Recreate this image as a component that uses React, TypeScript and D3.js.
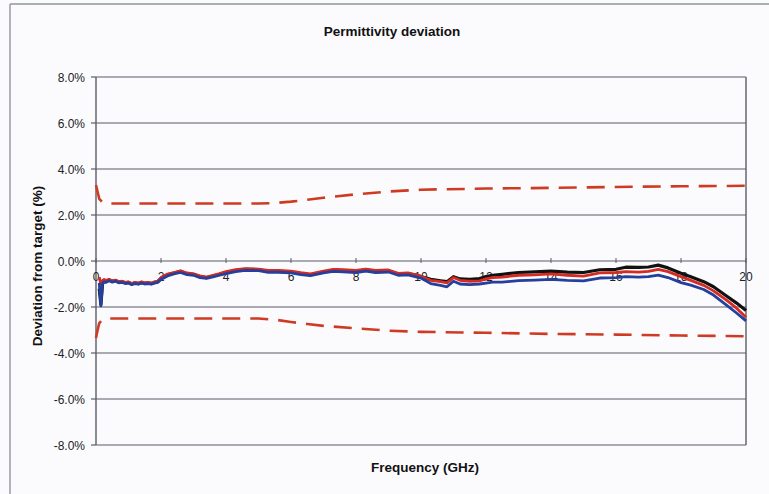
import React from "react";
import * as d3 from "d3";

const W = 769;
const H = 494;

const freq = [0.1, 0.15, 0.2, 0.25, 0.3, 0.4, 0.5, 0.6, 0.7, 0.8, 0.9, 1.0, 1.1, 1.2, 1.3, 1.4, 1.5, 1.6, 1.7, 1.8, 1.9, 2.0, 2.2, 2.4, 2.6, 2.8, 3.0, 3.2, 3.4, 3.6, 3.8, 4.0, 4.3, 4.6, 5.0, 5.3, 5.6, 6.0, 6.3, 6.6, 7.0, 7.3, 7.6, 8.0, 8.3, 8.6, 9.0, 9.3, 9.6, 10.0, 10.3, 10.6, 10.8, 11.0, 11.2, 11.5, 11.8, 12.0, 12.2, 12.5, 13.0, 13.5, 14.0, 14.5, 15.0, 15.5, 16.0, 16.3, 16.7, 17.0, 17.3, 17.6, 18.0, 18.3, 18.7, 19.0, 19.4, 19.7, 20.0];

const blackSeries = [-1.2, -1.9, -1.0, -0.85, -0.9, -0.82, -0.88, -0.85, -0.92, -0.9, -0.95, -0.93, -1.0, -0.95, -0.98, -0.93, -0.97, -0.95, -0.98, -0.93, -0.9, -0.75, -0.6, -0.52, -0.45, -0.55, -0.58, -0.68, -0.72, -0.65, -0.58, -0.5, -0.42, -0.36, -0.38, -0.45, -0.44, -0.48, -0.55, -0.6, -0.48, -0.4, -0.42, -0.45, -0.38, -0.45, -0.42, -0.58, -0.55, -0.68, -0.8, -0.86, -0.9, -0.68, -0.78, -0.8, -0.76, -0.68, -0.62, -0.58, -0.5, -0.47, -0.44, -0.48, -0.5, -0.38, -0.36, -0.27, -0.28, -0.26, -0.18, -0.3, -0.53, -0.68, -0.9, -1.12, -1.52, -1.82, -2.15];

const redSeries = [-0.7, -1.0, -0.85, -0.8, -0.85, -0.8, -0.86, -0.83, -0.9, -0.88, -0.93, -0.91, -0.98, -0.93, -0.96, -0.91, -0.95, -0.93, -0.96, -0.91, -0.88, -0.72, -0.57, -0.5, -0.43, -0.52, -0.56, -0.65, -0.7, -0.62, -0.55, -0.46, -0.38, -0.33, -0.35, -0.41, -0.41, -0.44, -0.51, -0.56, -0.44, -0.36, -0.38, -0.41, -0.35, -0.41, -0.39, -0.54, -0.52, -0.66, -0.84, -0.9, -0.95, -0.72, -0.84, -0.88, -0.86, -0.78, -0.72, -0.7, -0.62, -0.6, -0.56, -0.62, -0.66, -0.52, -0.5, -0.46, -0.48, -0.45, -0.36, -0.46, -0.68, -0.84, -1.06, -1.3, -1.7, -2.04, -2.45];

const blueSeries = [-0.95, -1.95, -1.0, -0.9, -0.93, -0.86, -0.92, -0.88, -0.95, -0.93, -0.98, -0.96, -1.03, -0.98, -1.01, -0.96, -1.0, -0.98, -1.01, -0.96, -0.93, -0.8, -0.65, -0.56, -0.5, -0.59, -0.62, -0.72, -0.76, -0.69, -0.62, -0.55, -0.46, -0.41, -0.42, -0.49, -0.49, -0.52, -0.59, -0.64, -0.52, -0.45, -0.47, -0.5, -0.44, -0.5, -0.48, -0.62, -0.6, -0.74, -0.98, -1.06, -1.12, -0.88, -1.0, -1.03, -1.0, -0.96, -0.92, -0.92, -0.85, -0.83, -0.8, -0.84, -0.86, -0.74, -0.72, -0.68, -0.7, -0.68, -0.61, -0.72, -0.94, -1.05, -1.24, -1.48, -1.92, -2.25, -2.6];

const limitFreq = [0, 0.05, 0.1, 0.2, 0.3, 5, 5.5, 6, 6.5, 7, 8, 9, 10, 12, 14, 16, 18, 20];
const upperLimit = [3.3, 3.0, 2.7, 2.55, 2.5, 2.5, 2.52, 2.58, 2.66, 2.75, 2.9, 3.02, 3.1, 3.15, 3.18, 3.22, 3.25, 3.27];
const lowerLimit = [-3.35, -3.0, -2.7, -2.55, -2.5, -2.5, -2.55, -2.65, -2.74, -2.82, -2.93, -3.03, -3.08, -3.12, -3.17, -3.2, -3.24, -3.27];

const xTicks = [0, 2, 4, 6, 8, 10, 12, 14, 16, 18, 20];
const yTicks = [8, 6, 4, 2, 0, -2, -4, -6, -8];

const chartTitle = "Permittivity deviation";
const xTitle = "Frequency (GHz)";
const yTitle = "Deviation from target (%)";

export default function App() {
  const left = 96, right = 746, top = 77, bottom = 445;
  const x = d3.scaleLinear().domain([0, 20]).range([left, right]);
  const y = d3.scaleLinear().domain([-8, 8]).range([bottom, top]);
  const line = d3.line<[number, number]>().x(d => x(d[0])).y(d => y(d[1]));
  const mk = (xs: number[], ys: number[]) => line(xs.map((f, i) => [f, ys[i]] as [number, number])) || "";
  const font = "'Liberation Sans', Arial, sans-serif";
  const grid = "#5a5d66";
  const limitColor = "#cf3a22";

  return (
    <svg width={W} height={H} style={{ position: "absolute", left: 0, top: 0 }} fontFamily={font}>
      <rect x={0} y={0} width={W} height={H} fill="#fbfbfe" />
      <line x1={10} y1={4} x2={W} y2={4} stroke="#8a9a95" strokeWidth={1.5} />
      <line x1={10} y1={4} x2={10} y2={H} stroke="#9a9aa4" strokeWidth={1.5} />
      <text x={392} y={36} textAnchor="middle" fontSize={13.5} fontWeight="bold" fill="#111">{chartTitle}</text>
      {yTicks.map(t => (
        <g key={t}>
          <line x1={left} x2={right} y1={y(t)} y2={y(t)} stroke={grid} strokeWidth={1.2} />
          <line x1={left - 5} x2={left} y1={y(t)} y2={y(t)} stroke={grid} strokeWidth={1.2} />
          <text x={85} y={y(t) + 4.5} textAnchor="end" fontSize={12} fill="#222">{t.toFixed(1)}%</text>
        </g>
      ))}
      <line x1={left} x2={left} y1={top} y2={bottom} stroke={grid} strokeWidth={1.4} />
      <line x1={right} x2={right} y1={top} y2={bottom} stroke={grid} strokeWidth={1.4} />
      {xTicks.map(t => (
        <g key={t}>
          <line x1={x(t)} x2={x(t)} y1={y(0) - 3} y2={y(0) + 2} stroke={grid} strokeWidth={1} />
          <text x={x(t)} y={y(0) + 20} textAnchor="middle" fontSize={12} fill="#222">{t}</text>
        </g>
      ))}
      <path d={mk(limitFreq, upperLimit)} fill="none" stroke={limitColor} strokeWidth={2.6} strokeDasharray="18,10" />
      <path d={mk(limitFreq, lowerLimit)} fill="none" stroke={limitColor} strokeWidth={2.6} strokeDasharray="18,10" />
      <path d={mk(freq, blackSeries)} fill="none" stroke="#111" strokeWidth={3.2} strokeLinejoin="round" />
      <path d={mk(freq, redSeries)} fill="none" stroke="#d42b22" strokeWidth={2.8} strokeLinejoin="round" />
      <path d={mk(freq, blueSeries)} fill="none" stroke="#243f9c" strokeWidth={2.8} strokeLinejoin="round" />
      <text x={425} y={472} textAnchor="middle" fontSize={13.5} fontWeight="bold" fill="#111">{xTitle}</text>
      <text transform={`translate(42,266) rotate(-90)`} textAnchor="middle" fontSize={13.5} fontWeight="bold" fill="#111">{yTitle}</text>
    </svg>
  );
}
